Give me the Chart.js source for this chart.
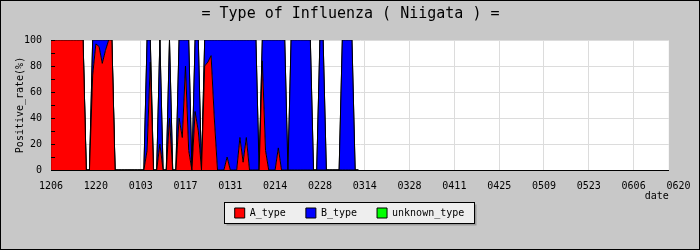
<!DOCTYPE html>
<html>
<head>
<meta charset="utf-8">
<script src="https://cdn.jsdelivr.net/npm/chart.js@4/dist/chart.umd.min.js"></script>
<style>
  html, body { margin: 0; padding: 0; background: #c8c8c8; }
  #wrap { width: 700px; height: 250px; }
</style>
</head>
<body>
<div id="wrap"><canvas id="fluChart" width="700" height="250"></canvas></div>
<script>
// x 축: 1206 부터 하루 단위 (day index)
const dateTicks = ['1206', '1220', '0103', '0117', '0131', '0214', '0228', '0314',
  '0328', '0411', '0425', '0509', '0523', '0606', '0620'];
const lastDay = 193;

// 일별 양성률 (%)
const aType = [
  100, 100, 100, 100, 100, 100, 100, 100, 100, 100,
  100, 0, 0, 73, 97, 95, 82, 92, 100, 100,
  0, 0, 0, 0, 0, 0, 0, 0, 0, 0,
  15, 83, 0, 0, 20, 0, 0, 40, 0, 0,
  40, 25, 80, 15, 0, 45, 30, 0, 80, 83,
  88, 40, 0, 0, 0, 10, 0, 0, 0, 25,
  6, 25, 0, 0, 0, 0, 84, 15, 0, 0,
  0, 17, 0, 0, 0, 0, 0, 0, 0, 0,
  0, 0, 0, 0, 0, 0, 0, 0, 0, 0,
  0, 0, 0, 0, 0, 0, 0
];
const bType = [
  0, 0, 0, 0, 0, 0, 0, 0, 0, 0,
  0, 0, 0, 27, 3, 5, 18, 8, 0, 0,
  0, 0, 0, 0, 0, 0, 0, 0, 0, 0,
  85, 17, 0, 0, 80, 0, 0, 60, 0, 0,
  60, 75, 20, 85, 0, 55, 70, 0, 20, 17,
  12, 60, 100, 100, 100, 90, 100, 100, 100, 75,
  94, 75, 100, 100, 100, 0, 16, 85, 100, 100,
  100, 83, 100, 100, 0, 100, 100, 100, 100, 100,
  100, 100, 0, 0, 100, 100, 0, 0, 0, 0,
  0, 100, 100, 100, 100, 0, 0
];
const unknownType = [
  0, 0, 0, 0, 0, 0, 0, 0, 0, 0,
  0, 0, 0, 0, 0, 0, 0, 0, 0, 0,
  0, 0, 0, 0, 0, 0, 0, 0, 0, 0,
  0, 0, 0, 0, 0, 0, 0, 0, 0, 0,
  0, 0, 0, 0, 0, 0, 0, 0, 0, 0,
  0, 0, 0, 0, 0, 0, 0, 0, 0, 0,
  0, 0, 0, 0, 0, 0, 0, 0, 0, 0,
  0, 0, 0, 0, 0, 0, 0, 0, 0, 0,
  0, 0, 0, 0, 0, 0, 0, 0, 0, 0,
  0, 0, 0, 0, 0, 0, 0
];
const days = aType.map((_, i) => i);

Chart.defaults.font.family = "'DejaVu Sans Mono', monospace";
Chart.defaults.font.size = 10;
Chart.defaults.color = '#000';

// 배경, 테두리, 범례 박스
const frame = {
  id: 'frame',
  afterLayout(chart) {
    // 제목과 범례를 그림 가운데로 옮긴다
    const tb = chart.titleBlock;
    tb.left += 14;
    tb.right += 14;
    const lg = chart.legend;
    lg.left += 13;
    lg.right += 13;
    (lg.legendHitBoxes || []).forEach(b => { b.left += 13; });
  },
  beforeDraw(chart) {
    const { ctx, chartArea: a } = chart;
    ctx.save();
    ctx.fillStyle = '#c8c8c8';
    ctx.fillRect(0, 0, chart.width, chart.height);
    ctx.strokeStyle = '#000';
    ctx.lineWidth = 1;
    ctx.strokeRect(0.5, 0.5, chart.width - 1, chart.height - 1);
    ctx.fillStyle = '#fff';
    ctx.fillRect(a.left, a.top, a.right - a.left, a.bottom - a.top);

    const boxes = chart.legend.legendHitBoxes;
    if (boxes && boxes.length) {
      const l = Math.round(boxes[0].left) - 10.5;
      const r = Math.round(boxes[boxes.length - 1].left + boxes[boxes.length - 1].width) + 10.5;
      const t = Math.round(boxes[0].top) - 5.5;
      const b = Math.round(boxes[0].top + boxes[0].height) + 5.5;
      ctx.fillStyle = '#999';
      ctx.fillRect(l + 2, t + 2, r - l, b - t);
      ctx.fillStyle = '#eeeeee';
      ctx.fillRect(l, t, r - l, b - t);
      ctx.strokeStyle = '#000';
      ctx.strokeRect(l, t, r - l, b - t);
    }
    ctx.restore();
  },
  afterDatasetsDraw(chart) {
    // y축 안쪽 눈금
    const { ctx, chartArea: a, scales: { y } } = chart;
    ctx.save();
    ctx.strokeStyle = '#000';
    ctx.lineWidth = 1;
    ctx.beginPath();
    for (let v = 0; v <= 100; v += 10) {
      const py = Math.round(y.getPixelForValue(v)) + 0.5;
      ctx.moveTo(a.left, py);
      ctx.lineTo(a.left + 4, py);
    }
    ctx.stroke();
    ctx.restore();
  }
};

const ctx = document.getElementById('fluChart').getContext('2d');
new Chart(ctx, {
  type: 'line',
  data: {
    labels: days,
    datasets: [
      { label: 'A_type', data: aType, backgroundColor: '#ff0000', fill: 'origin' },
      { label: 'B_type', data: bType, backgroundColor: '#0000ff', fill: '-1' },
      { label: 'unknown_type', data: unknownType, backgroundColor: '#00ff00', fill: '-1' }
    ]
  },
  options: {
    responsive: false,
    animation: false,
    devicePixelRatio: 1,
    elements: {
      line: { tension: 0, borderWidth: 1, borderColor: '#000' },
      point: { radius: 0 }
    },
    layout: { padding: { top: 0, left: 3, right: 30, bottom: 22 } },
    plugins: {
      title: {
        display: true,
        text: '= Type of Influenza ( Niigata ) =',
        font: { size: 15, weight: 'normal' },
        color: '#000',
        padding: { top: 5, bottom: 17 }
      },
      legend: {
        position: 'bottom',
        labels: {
          boxWidth: 10,
          boxHeight: 10,
          padding: 8,
          color: '#000',
          generateLabels(chart) {
            return chart.data.datasets.map((ds, i) => ({
              text: i < 2 ? ds.label + '  ' : ds.label,
              fillStyle: ds.backgroundColor,
              strokeStyle: '#000',
              lineWidth: 1,
              datasetIndex: i
            }));
          }
        }
      },
      tooltip: { enabled: false }
    },
    scales: {
      x: {
        type: 'linear',
        min: 0,
        max: lastDay,
        afterBuildTicks(scale) {
          scale.ticks = dateTicks.map((_, i) => ({ value: i * 14 }));
        },
        ticks: {
          autoSkip: false,
          maxRotation: 0,
          padding: 10,
          callback: (v) => dateTicks[Math.round(v / 14)]
        },
        grid: {
          drawTicks: false,
          color: (c) => (c.tick && c.tick.value > 0 && c.tick.value <= lastDay) ? '#dcdcdc' : 'rgba(0,0,0,0)'
        },
        border: { color: '#000', width: 1 },
        title: { display: true, text: 'date', align: 'end', padding: { top: -12, bottom: -2 } }
      },
      y: {
        stacked: true,
        min: 0,
        max: 100,
        ticks: { stepSize: 20, padding: 9 },
        grid: { drawTicks: false, color: '#dcdcdc' },
        border: { color: '#000', width: 1 },
        title: { display: true, text: 'Positive_rate(%)', padding: { top: 11, bottom: -11 } }
      }
    }
  },
  plugins: [frame]
});
</script>
</body>
</html>
